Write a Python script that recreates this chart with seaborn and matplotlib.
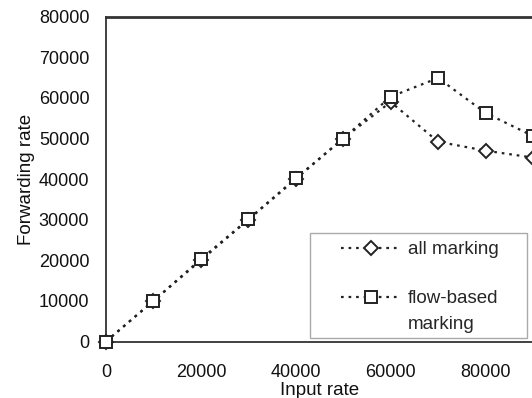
import matplotlib
matplotlib.use("Agg")
import matplotlib.pyplot as plt
from matplotlib.legend_handler import HandlerLine2D
from matplotlib.patches import Rectangle
import seaborn as sns
import pandas as pd

input_rate = [0, 10000, 20000, 30000, 40000, 50000, 60000, 70000, 80000, 90000]
all_marking = [0, 10000, 20000, 30000, 40000, 50000, 59000, 49200, 47000, 45300]
flow_based = [0, 10000, 20300, 30100, 40200, 50000, 60300, 64900, 56300, 50600]
x_ticks = [0, 20000, 40000, 60000, 80000]
y_ticks = [0, 10000, 20000, 30000, 40000, 50000, 60000, 70000, 80000]

sns.set_style("white")
plt.rcParams['font.family'] = ['Liberation Sans', 'DejaVu Sans']


class ShiftedHandler(HandlerLine2D):
    def __init__(self, dy=0.0, **kw):
        super().__init__(**kw)
        self.dy = dy

    def create_artists(self, legend, orig_handle, xdescent, ydescent, width,
                       height, fontsize, trans):
        return super().create_artists(legend, orig_handle, xdescent,
                                      ydescent - self.dy * fontsize, width,
                                      height, fontsize, trans)


fig = plt.figure(figsize=(5.32, 3.98), dpi=100)
ax = fig.add_axes([106/532, 56.5/398, (533-106)/532, (341.5-16.7)/398])

df = pd.DataFrame({"x": input_rate, "all": all_marking, "flow": flow_based})
sns.lineplot(data=df, x="x", y="all", ax=ax, color="#222222", linestyle=(0, (1.2, 2.2)),
             linewidth=1.6, marker="D", markersize=7, markerfacecolor="white",
             markeredgecolor="#222222", markeredgewidth=1.4, label="all marking",
             clip_on=False, zorder=3)
sns.lineplot(data=df, x="x", y="flow", ax=ax, color="#222222", linestyle=(0, (1.2, 2.2)),
             linewidth=1.6, marker="s", markersize=9, markerfacecolor="white",
             markeredgecolor="#222222", markeredgewidth=1.4, label="flow-based\nmarking",
             clip_on=False, zorder=4)

ax.set_xlim(0, 90000)
ax.set_ylim(0, 80000)
ax.set_xticks(x_ticks)
ax.set_yticks(y_ticks)
ax.set_xticklabels([str(v) for v in x_ticks], fontsize=13)
ax.set_yticklabels([str(v) for v in y_ticks], fontsize=13)
ax.tick_params(axis='x', direction='in', length=5, width=1.2, pad=16, colors='#222222')
ax.tick_params(axis='y', direction='in', length=5, width=1.2, pad=12, colors='#222222')
for lbl in ax.get_xticklabels() + ax.get_yticklabels():
    lbl.set_color('#111111')

ax.set_xlabel("Input rate", fontsize=13.5, labelpad=1, color='#111111')
ax.set_ylabel("Forwarding rate", fontsize=13.5, labelpad=3, color='#111111')

for side in ['left', 'bottom']:
    ax.spines[side].set_color('#333333')
    ax.spines[side].set_linewidth(1.3)
ax.spines['top'].set_color('#333333')
ax.spines['top'].set_linewidth(2.0)
ax.spines['right'].set_color('#cccccc')
ax.spines['right'].set_linewidth(1.0)

# legend frame
x0 = (310 - 106) / 427
x1 = (527 - 106) / 427
y0 = (341.5 - 338) / 324.8
y1 = (341.5 - 233) / 324.8
ax.add_patch(Rectangle((x0, y0), x1 - x0, y1 - y0, transform=ax.transAxes,
                       facecolor='white', edgecolor='#aaaaaa', linewidth=1.0,
                       zorder=5, clip_on=False))

handles, labels = ax.get_legend_handles_labels()
leg = ax.legend(handles, labels, loc='upper left',
                bbox_to_anchor=((341 - 106) / 427, (341.5 - 241) / 324.8),
                fontsize=13.5, frameon=False, handlelength=3.2, handletextpad=0.35,
                labelspacing=1.72, borderpad=0, borderaxespad=0,
                handler_map={handles[1]: ShiftedHandler(dy=1.55)})
leg.set_zorder(6)
leg.get_texts()[1].set_linespacing(1.65)

fig.savefig("out.png", dpi=100)
